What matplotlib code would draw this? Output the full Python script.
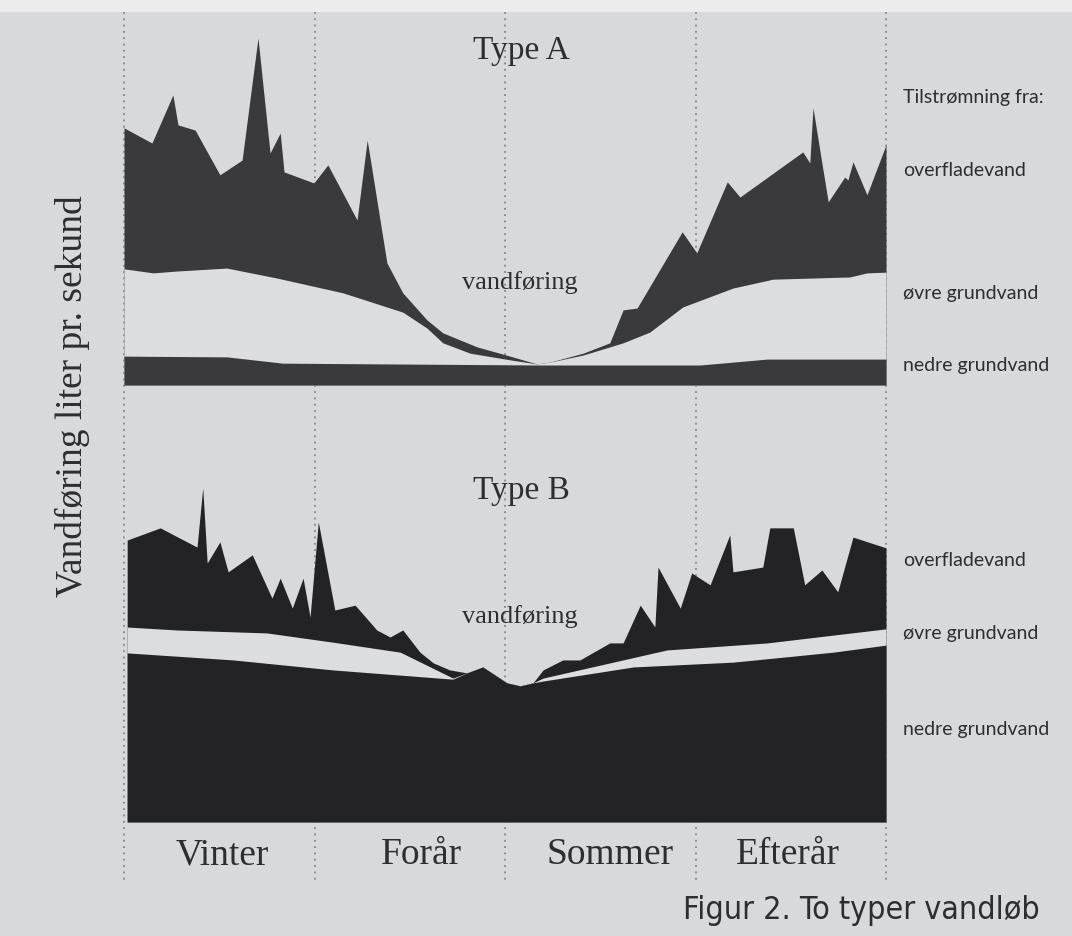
import matplotlib.pyplot as plt
import numpy as np

# x in months from start of winter (0..12), y in arbitrary flow units
seasons = ['Vinter', 'Forår', 'Sommer', 'Efterår']
season_label_x = [1.55, 4.68, 7.65, 10.45]
season_edges = [0, 3, 6, 9, 12]

# Type A
a_total_x = [0, 0.44, 0.77, 0.85, 1.12, 1.51, 1.86, 2.11, 2.30, 2.46, 2.52, 2.99, 3.21, 3.67, 3.83,
             4.14, 4.39, 4.77, 5.02, 5.56, 6.08, 6.50, 6.71, 7.23, 7.65, 7.86, 8.08, 8.79, 9.02,
             9.50, 9.70, 10.69, 10.80, 10.85, 10.99, 11.09, 11.35, 11.40, 11.48, 11.70, 12.0]
a_total_y = [69.5, 65.4, 78.4, 70.3, 68.9, 56.8, 60.8, 93.8, 62.7, 68.1, 57.6, 54.6, 59.5, 44.6, 66.2,
             33.0, 24.9, 17.6, 14.1, 10.3, 7.8, 5.7, 6.2, 8.6, 11.4, 20.3, 20.8, 41.4, 35.7,
             54.9, 50.8, 63.0, 60.0, 74.9, 60.0, 49.5, 56.2, 55.4, 60.3, 51.4, 64.9]
a_ovre_x = [0, 0.46, 0.83, 1.62, 2.41, 3.45, 4.39, 4.77, 5.02, 5.45, 6.08, 6.50,
            6.71, 7.23, 7.86, 8.28, 8.80, 9.59, 10.22, 11.43, 11.70, 12.0]
a_ovre_y = [31.4, 30.3, 30.8, 31.6, 28.9, 24.9, 19.7, 15.4, 11.4, 8.6, 6.8, 5.7,
            6.2, 8.1, 11.4, 14.3, 21.1, 26.2, 28.6, 29.2, 30.3, 30.5]
a_nedre_x = [0, 1.62, 2.50, 6.55, 9.07, 10.13, 12.0]
a_nedre_y = [7.8, 7.6, 5.9, 5.4, 5.4, 7.0, 7.0]

# Type B
b_total_x = [0.05, 0.57, 1.15, 1.24, 1.31, 1.51, 1.64, 2.02, 2.33, 2.46, 2.65, 2.82, 2.93, 3.06,
             3.32, 3.64, 3.98, 4.19, 4.39, 4.66, 4.87, 5.13, 5.40, 5.65, 6.03, 6.24, 6.44,
             6.60, 6.91, 7.18, 7.65, 7.86, 8.13, 8.36, 8.41, 8.76, 8.94, 9.23, 9.54, 9.59,
             10.06, 10.17, 10.54, 10.72, 10.99, 11.24, 11.48, 12.0]
b_total_y = [76.2, 79.5, 74.3, 90.3, 70.0, 75.7, 67.6, 72.2, 60.5, 65.9, 57.8, 65.9, 55.4, 81.1,
             57.3, 58.6, 51.9, 50.0, 51.9, 45.9, 43.0, 41.1, 40.3, 41.9, 37.6, 36.8, 37.6,
             41.1, 43.8, 43.8, 48.4, 48.4, 58.6, 52.7, 68.9, 57.8, 67.3, 64.1, 77.6, 67.6,
             68.9, 79.5, 79.5, 64.1, 68.1, 62.2, 77.0, 74.1]
b_ovre_x = [0.05, 0.83, 2.25, 3.29, 4.35, 5.18, 5.40, 5.65, 6.03, 6.24, 6.44,
            6.60, 8.55, 10.13, 12.0]
b_ovre_y = [52.7, 51.9, 51.1, 48.6, 45.9, 38.9, 40.3, 41.9, 37.6, 36.8, 37.6,
            38.9, 46.5, 48.4, 52.2]
b_nedre_x = [0.05, 1.72, 3.29, 5.18, 5.40, 5.65, 6.03, 6.24, 6.44, 6.60, 8.02, 9.59, 11.17, 12.0]
b_nedre_y = [45.7, 43.8, 41.1, 38.6, 40.3, 41.9, 37.6, 36.8, 37.6, 38.1, 41.9, 43.2, 45.9, 47.8]

PAPER = '#d8d9dc'
BAND = '#dcdddf'
DARK_A = '#3a393e'
DARK_B = '#232227'
INK = '#2e2e30'

W, H = 1072, 936
fig = plt.figure(figsize=(W / 100, H / 100), dpi=100, facecolor=PAPER)

# background axes: x in months, y in pixels (for the dotted season lines)
bg = fig.add_axes([0, 0, 1, 1])
bg.set_xlim(-124 / 63.5, 12 + (W - 886) / 63.5)
bg.set_ylim(H, 0)
bg.axis('off')
bg.axhspan(0, 12, color='#ececec', lw=0)
bg.vlines(season_edges, 12, 880, colors='#85858a', linestyles=(0, (1, 2.5)), lw=1.3)


def panel(bottom_px, tx, ty, ox, oy, nx, ny, dark):
    ax = fig.add_axes([124 / W, 1 - bottom_px / H, 762 / W, 370 / H])
    ax.set_xlim(0, 12)
    ax.set_ylim(0, 100)
    ax.axis('off')
    ax.patch.set_alpha(0)
    ax.fill_between(tx, ty, 0, color=dark, lw=0)
    ax.fill_between(ox, oy, 0, color=BAND, lw=0)
    ax.fill_between(nx, ny, 0, color=dark, lw=0)
    return ax


panel(385, a_total_x, a_total_y, a_ovre_x, a_ovre_y, a_nedre_x, a_nedre_y, DARK_A)
panel(822, b_total_x, b_total_y, b_ovre_x, b_ovre_y, b_nedre_x, b_nedre_y, DARK_B)


def txt(x, y, s, **kw):
    fig.text(x / W, 1 - y / H, s, color=INK, **kw)


serif = ['Liberation Serif', 'DejaVu Serif']
sans = ['Lato', 'DejaVu Sans']
txt(521, 51, 'Type A', fontsize=24, family=serif, ha='center', va='center')
txt(520, 283, 'vandføring', fontsize=19, family=serif, ha='center', va='center')
txt(521, 491, 'Type B', fontsize=24, family=serif, ha='center', va='center')
txt(520, 617, 'vandføring', fontsize=19, family=serif, ha='center', va='center')

for lab, y in [('Tilstrømning fra:', 98), ('overfladevand', 170),
               ('øvre grundvand', 293), ('nedre grundvand', 365),
               ('overfladevand', 560), ('øvre grundvand', 634), ('nedre grundvand', 730)]:
    txt(903, y, lab, fontsize=14, family=sans, ha='left', va='center')

txt(72, 396, 'Vandføring liter pr. sekund', fontsize=27, family=serif,
    rotation=90, ha='center', va='center')

for lab, m in zip(seasons, season_label_x):
    bg.text(m, 855, lab, fontsize=27, family=serif, color=INK, ha='center', va='center')

txt(1040, 910, 'Figur 2. To typer vandløb', fontsize=23,
    family='DejaVu Sans', fontstretch='condensed', ha='right', va='center')

fig.savefig('out.png', dpi=100, facecolor=PAPER)
